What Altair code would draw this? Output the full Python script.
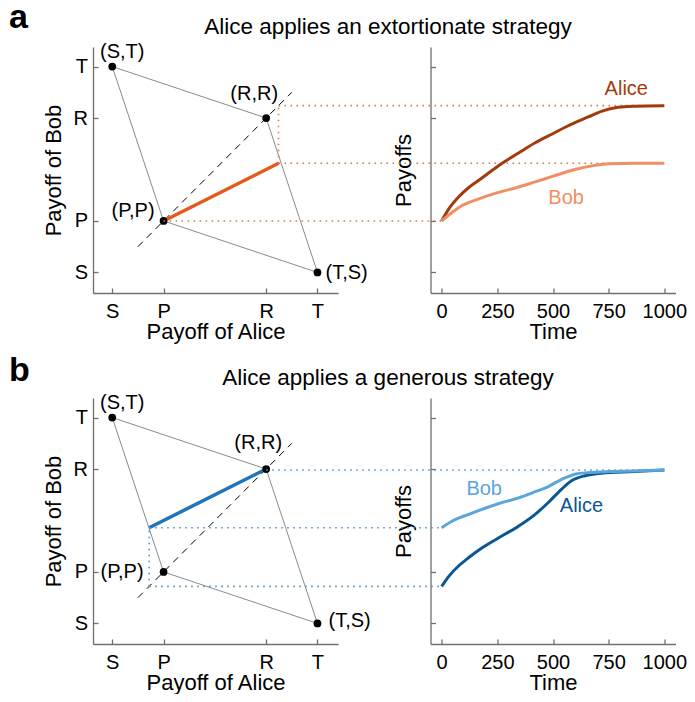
import altair as alt
import pandas as pd

# ---------------- data ----------------
TICK_VALUES = [0, 1, 3, 4]
TICK_LABELS = ["S", "P", "R", "T"]
TIME_TICKS = [0, 250, 500, 750, 1000]

corner_names = ["(P,P)", "(S,T)", "(R,R)", "(T,S)"]
corner_alice = [1, 0, 3, 4]
corner_bob = [1, 4, 3, 0]
diag_lo, diag_hi = 0.5, 3.5

titles = ["Alice applies an extortionate strategy", "Alice applies a generous strategy"]
letters = ["a", "b"]

# panel a: extortion
strat_a = [1.0, 1.0, 3.24, 2.12]          # x0, y0, x1, y1
time_alice_a = [0, 33, 77, 122, 167, 251, 345, 420, 501, 568, 658, 717, 792, 866, 1000]
alice_a = [1.00, 1.24, 1.47, 1.65, 1.79, 2.06, 2.32, 2.52, 2.70, 2.85, 3.02, 3.13, 3.21, 3.23, 3.24]
time_bob_a = [0, 48, 92, 167, 251, 345, 420, 501, 598, 688, 751, 866, 1000]
bob_a = [1.00, 1.17, 1.30, 1.43, 1.55, 1.66, 1.76, 1.87, 2.00, 2.08, 2.11, 2.12, 2.12]

# panel b: generous
strat_b = [0.72, 1.86, 3.0, 3.0]
time_alice_b = [0, 33, 77, 122, 182, 251, 345, 420, 479, 539, 583, 643, 717, 866, 1000]
alice_b = [0.72, 0.92, 1.12, 1.28, 1.47, 1.65, 1.89, 2.12, 2.35, 2.61, 2.77, 2.87, 2.92, 2.95, 2.98]
time_bob_b = [0, 48, 122, 251, 345, 420, 479, 539, 598, 658, 751, 866, 1000]
bob_b = [1.86, 1.99, 2.12, 2.32, 2.44, 2.56, 2.66, 2.80, 2.90, 2.93, 2.95, 2.96, 2.98]

# ---------------- style / layout ----------------
FONT = "Liberation Sans"
AXC = "#6f6f6f"
W, H = 245, 246
GAP, VGAP = 92.5, 105
XL = [-0.375, 4.4]
YL = [-0.4, 4.38]
XT = [-50, 1050]
DOT_DASH = [1.6, 4.4]

STYLE = {
    "a": dict(strat="#e35b1a", alice="#a23b0c", bob="#ef8f63", dot="#e0794a",
              lab={"(S,T)": ("center", 10, -9), "(R,R)": ("center", -12, -18),
                   "(P,P)": ("right", -9, -4), "(T,S)": ("left", 8, 7)},
              alice_lab=(829, 3.44), bob_lab=(559, 1.32), letter_y=-19.5),
    "b": dict(strat="#1f74bb", alice="#0b5793", bob="#5aa5dc", dot="#4f95cc",
              lab={"(S,T)": ("center", 10, -9), "(R,R)": ("center", -8, -20),
                   "(P,P)": ("right", -20, 6), "(T,S)": ("left", 11, 4)},
              alice_lab=(628, 2.17), bob_lab=(191, 2.49), letter_y=-17),
}

label_expr = " : ".join(
    f"datum.value == {v} ? '{l}'" for v, l in zip(TICK_VALUES, TICK_LABELS)) + " : ''"

common_axis = dict(ticks=False, tickSize=0, domain=True, domainColor=AXC, domainWidth=1.3,
                   grid=True, gridColor=AXC, gridWidth=1.3, labelFontSize=20,
                   titleFontSize=22, labelColor="black", titleColor="black",
                   titleFontWeight="normal", labelFont=FONT, titleFont=FONT,
                   labelFlush=False, labelOverlap=False, labelAngle=0)

AX_LX = alt.Axis(values=TICK_VALUES, labelExpr=label_expr, title="Payoff of Alice",
                 gridDash=[0, H - 5, 5, 3000], labelPadding=8.5, titlePadding=0,
                 **common_axis)
AX_LY = alt.Axis(values=TICK_VALUES, labelExpr=label_expr, title="Payoff of Bob",
                 gridDash=[5, 3000], labelPadding=5.5, titlePadding=8, **common_axis)
AX_RX = alt.Axis(values=TIME_TICKS, title="Time", format="d",
                 gridDash=[0, H - 5, 5, 3000], labelPadding=8.5, titlePadding=0,
                 **common_axis)
AX_RY = alt.Axis(values=TICK_VALUES, labels=False, title="Payoffs",
                 gridDash=[5, 3000], titlePadding=15, **common_axis)

SXL = alt.Scale(domain=XL, nice=False, zero=False)
SY = alt.Scale(domain=YL, nice=False, zero=False)
SXT = alt.Scale(domain=XT, nice=False, zero=False)


def LX(f):
    return alt.X(f"{f}:Q", scale=SXL, axis=AX_LX)


def LY(f):
    return alt.Y(f"{f}:Q", scale=SY, axis=AX_LY)


def RX(f):
    return alt.X(f"{f}:Q", scale=SXT, axis=AX_RX)


def RY(f):
    return alt.Y(f"{f}:Q", scale=SY, axis=AX_RY)


def to_time(xv):
    """Map a left-panel payoff x to the right panel's time axis (same pixel row)."""
    px = (xv - XL[0]) / (XL[1] - XL[0]) * W - (W + GAP)
    return XT[0] + px / W * (XT[1] - XT[0])


def left_panel(key, strat, title, letter, vconn):
    st = STYLE[key]
    poly = pd.DataFrame({"x": corner_alice + [corner_alice[0]],
                         "y": corner_bob + [corner_bob[0]],
                         "o": list(range(len(corner_alice) + 1))})
    pts = pd.DataFrame({"x": corner_alice, "y": corner_bob, "name": corner_names})
    layers = []
    layers.append(alt.Chart(poly).mark_line(color="#8a8a8a", strokeWidth=1).encode(
        x=LX("x"), y=LY("y"), order="o:Q"))
    diag = pd.DataFrame({"x": [diag_lo], "y": [diag_lo], "x2": [diag_hi], "y2": [diag_hi]})
    layers.append(alt.Chart(diag).mark_rule(color="black", strokeWidth=1,
                                            strokeDash=[7, 5.5]).encode(
        x=LX("x"), y=LY("y"), x2="x2:Q", y2="y2:Q"))
    vc = pd.DataFrame({"x": [vconn[0]], "y": [vconn[1]], "y2": [vconn[2]]})
    layers.append(alt.Chart(vc).mark_rule(color=st["dot"], strokeWidth=1.6,
                                          strokeDash=DOT_DASH).encode(
        x=LX("x"), y=LY("y"), y2="y2:Q"))
    sl = pd.DataFrame({"x": [strat[0]], "y": [strat[1]], "x2": [strat[2]], "y2": [strat[3]]})
    layers.append(alt.Chart(sl).mark_rule(color=st["strat"], strokeWidth=3.5).encode(
        x=LX("x"), y=LY("y"), x2="x2:Q", y2="y2:Q"))
    layers.append(alt.Chart(pts).mark_circle(color="black", size=60, opacity=1).encode(
        x=LX("x"), y=LY("y")))
    for name in corner_names:
        align, dx, dy = st["lab"][name]
        layers.append(alt.Chart(pts[pts["name"] == name]).mark_text(
            font=FONT, fontSize=20, align=align, baseline="alphabetic", dx=dx, dy=dy,
            color="black").encode(x=LX("x"), y=LY("y"), text="name:N"))
    tdf = pd.DataFrame({"t": [title]})
    layers.append(alt.Chart(tdf).mark_text(font=FONT, fontSize=22.5, align="center",
                                           baseline="alphabetic", color="black").encode(
        x=alt.value(295), y=alt.value(-13), text="t:N"))
    ldf = pd.DataFrame({"t": [letter]})
    layers.append(alt.Chart(ldf).mark_text(font=FONT, fontSize=34, fontWeight="bold",
                                           align="left", baseline="alphabetic",
                                           color="black").encode(
        x=alt.value(-84), y=alt.value(st["letter_y"]), text="t:N"))
    return alt.layer(*layers).properties(width=W, height=H)


def right_panel(key, ta, va, tb, vb, conns):
    st = STYLE[key]
    layers = []
    cdf = pd.DataFrame({"t0": [to_time(c[0]) for c in conns],
                        "t1": [c[1] for c in conns],
                        "v": [c[2] for c in conns]})
    layers.append(alt.Chart(cdf).mark_rule(color=st["dot"], strokeWidth=1.6,
                                           strokeDash=DOT_DASH, clip=False).encode(
        x=RX("t0"), x2="t1:Q", y=RY("v")))
    dfa = pd.DataFrame({"t": ta, "v": va})
    dfb = pd.DataFrame({"t": tb, "v": vb})
    layers.append(alt.Chart(dfa).mark_line(color=st["alice"], strokeWidth=3,
                                           interpolate="monotone").encode(
        x=RX("t"), y=RY("v")))
    layers.append(alt.Chart(dfb).mark_line(color=st["bob"], strokeWidth=3,
                                           interpolate="monotone").encode(
        x=RX("t"), y=RY("v")))
    for who, pos, col in [("Alice", st["alice_lab"], st["alice"]),
                          ("Bob", st["bob_lab"], st["bob"])]:
        d = pd.DataFrame({"t": [pos[0]], "v": [pos[1]], "who": [who]})
        layers.append(alt.Chart(d).mark_text(font=FONT, fontSize=20, align="center",
                                             baseline="alphabetic", color=col).encode(
            x=RX("t"), y=RY("v"), text="who:N"))
    return alt.layer(*layers).properties(width=W, height=H)


left_a = left_panel("a", strat_a, titles[0], letters[0],
                    (strat_a[2], strat_a[3], alice_a[-1]))
right_a = right_panel("a", time_alice_a, alice_a, time_bob_a, bob_a,
                      [(strat_a[2], 1000, alice_a[-1]),
                       (strat_a[2], 1000, bob_a[-1]),
                       (strat_a[0], 0, alice_a[0])])
left_b = left_panel("b", strat_b, titles[1], letters[1],
                    (strat_b[0], alice_b[0], strat_b[1]))
right_b = right_panel("b", time_alice_b, alice_b, time_bob_b, bob_b,
                      [(strat_b[2], 1000, alice_b[-1]),
                       (strat_b[0], 0, bob_b[0]),
                       (strat_b[0], 0, alice_b[0])])

chart = alt.concat(left_a, right_a, left_b, right_b, columns=2,
                   spacing=alt.RowColnumber(row=VGAP, column=GAP),
                   bounds="flush").properties(
    padding={"left": 1, "top": -8, "right": 0, "bottom": 0},
    background="white",
).configure_view(stroke=None).configure_text(font=FONT)

chart.save("out.html", embed_options={"renderer": "svg", "actions": False})
